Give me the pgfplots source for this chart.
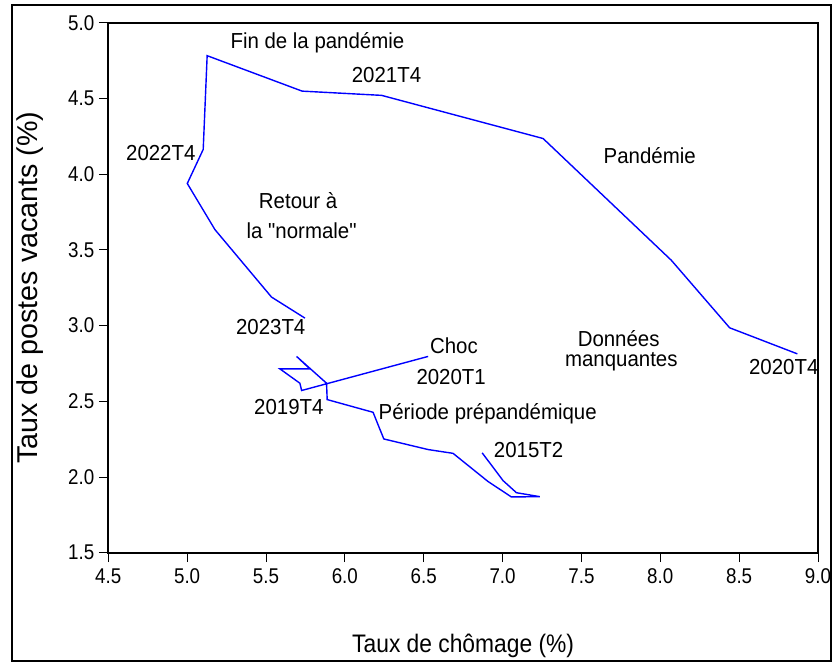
\documentclass[border=0pt]{standalone}
\usepackage{pgfplots}
\pgfplotsset{compat=1.18}
\usepackage{fontspec}
\setmainfont{Liberation Sans}
\newfontfamily\annfont{Liberation Sans}[FakeStretch=0.94]
\newfontfamily\tickfont{Liberation Sans}[FakeStretch=0.88]
\newfontfamily\xlabfont{Liberation Sans}[FakeStretch=0.9]
\begin{document}
\begin{tikzpicture}
\useasboundingbox (0pt,0pt) rectangle (624pt,-496.5pt);
\draw[line width=1.4pt] (9pt,-3.75pt) rectangle (623.25pt,-495.75pt);
\begin{axis}[
  at={(81.2pt,-414.5pt)}, anchor=south west,
  scale only axis, width=532.3pt, height=397.5pt,
  xmin=4.5, xmax=9.0, ymin=1.5, ymax=5.0,
  xtick={4.5,5.0,5.5,6.0,6.5,7.0,7.5,8.0,8.5,9.0},
  ytick={1.5,2.0,2.5,3.0,3.5,4.0,4.5,5.0},
  tick pos=left, tick align=outside, major tick length=7pt,
  tick style={black, line width=0.6pt},
  axis line style={black, line width=1.3pt},
  /pgf/number format/assume math mode=true,
  /pgf/number format/.cd, fixed, fixed zerofill, precision=1, /pgfplots/.cd,
  tick label style={font=\tickfont\fontsize{16}{19}\selectfont},
  xticklabel style={yshift=-1.5pt},
  xlabel={Taux de chômage (\%)},
  xlabel style={font=\xlabfont\fontsize{19}{22}\selectfont, at={([yshift=-74.5pt]axis description cs:0.5,0)}, anchor=base},
  ylabel={Taux de postes vacants (\%)},
  ylabel style={font=\fontsize{21.5}{25}\selectfont, at={([xshift=-52.7pt]axis description cs:0,0.5)}, anchor=base},
  clip=false,
]
\addplot[blue, line width=1.05pt] coordinates {
(6.871,2.159) (7.003,1.976) (7.088,1.896) (7.236,1.870) (7.056,1.868)
(6.908,1.970) (6.686,2.156) (6.528,2.181) (6.247,2.251) (6.179,2.427)
(5.888,2.511) (5.884,2.619) (5.694,2.796) (5.778,2.714) (5.588,2.714)
(5.715,2.619) (5.726,2.571) (6.528,2.796)
};
\addplot[blue, line width=1.05pt] coordinates {
(8.869,2.813) (8.440,2.985) (8.070,3.431) (7.257,4.235) (6.233,4.520)
(5.729,4.548) (5.127,4.782) (5.102,4.163) (5.001,3.938) (5.176,3.634)
(5.535,3.188) (5.747,3.049)
};
\begin{scope}[every node/.style={font=\annfont\fontsize{16.3}{19}\selectfont, inner sep=0pt}]
\node at (axis cs:5.826,4.866) {Fin de la pandémie};
\node at (axis cs:6.264,4.654) {2021T4};
\node at (axis cs:4.833,4.136) {2022T4};
\node at (axis cs:5.704,3.827) {Retour à};
\node at (axis cs:5.726,3.629) {la "normale"};
\node at (axis cs:5.530,2.989) {2023T4};
\node at (axis cs:7.933,4.125) {Pandémie};
\node at (axis cs:7.736,2.913) {Données};
\node at (axis cs:7.753,2.758) {manquantes};
\node at (axis cs:8.783,2.725) {2020T4};
\node at (axis cs:6.692,2.868) {Choc};
\node at (axis cs:6.674,2.659) {2020T1};
\node at (axis cs:5.645,2.460) {2019T4};
\node at (axis cs:6.906,2.417) {Période prépandémique};
\node at (axis cs:7.165,2.179) {2015T2};
\end{scope}
\end{axis}
\end{tikzpicture}
\end{document}
